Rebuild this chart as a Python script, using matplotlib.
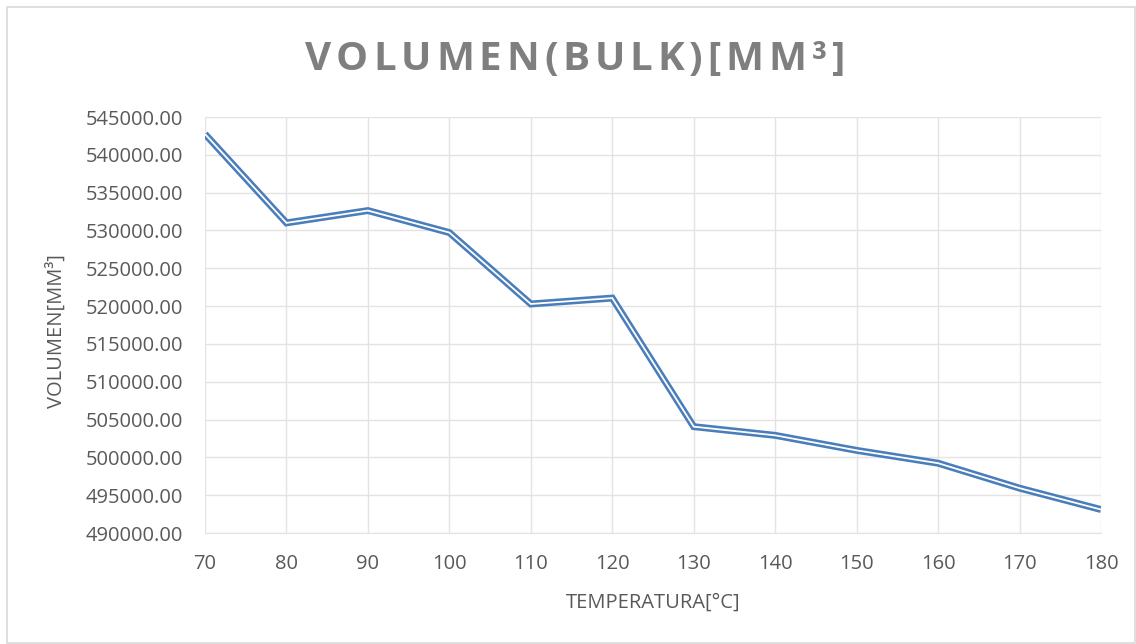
import matplotlib
matplotlib.use("Agg")
import matplotlib.pyplot as plt
from matplotlib.patches import Rectangle

temperatures = [70, 80, 90, 100, 110, 120, 130, 140, 150, 160, 170, 180]
volumes = [542750, 531000, 532630, 529720, 520280, 521060, 504060, 502910,
           500926, 499230, 495930, 493100]
y_ticks = [490000, 495000, 500000, 505000, 510000, 515000, 520000, 525000,
           530000, 535000, 540000, 545000]
title_text = "VOLUMEN(BULK)[MM³]"
x_label = "TEMPERATURA[°C]"
y_label = "VOLUMEN[MM³]"

W, H = 1136, 644
fig = plt.figure(figsize=(W / 100, H / 100), dpi=100)
fig.patch.set_facecolor("white")
font = ["Open Sans", "DejaVu Sans"]
txt_col = "#595959"
grid_col = "#e3e3e3"
line_col = "#4a7ebb"

# outer border
fig.add_artist(Rectangle((7 / W, 1 / H), (W - 8) / W, (H - 8) / H,
                         transform=fig.transFigure, fill=False,
                         edgecolor="#d9d9d9", linewidth=1.2))

ax = fig.add_axes([205 / W, 1 - 533 / H, (1101 - 205) / W, (533 - 117) / H])
ax.plot(temperatures, volumes, color=line_col, lw=5.0, solid_joinstyle="miter",
        solid_capstyle="butt", zorder=3)
ax.plot(temperatures, volumes, color="white", lw=1.3, solid_joinstyle="miter",
        solid_capstyle="butt", zorder=4)

ax.set_xlim(70, 180)
ax.set_ylim(490000, 545000)
ax.set_xticks(temperatures)
ax.set_xticklabels([str(t) for t in temperatures])
ax.set_yticks(y_ticks)
ax.set_yticklabels([f"{v:.2f}" for v in y_ticks])
ax.grid(True, color=grid_col, lw=1.0)
ax.set_axisbelow(True)
for s in ["top", "right", "left"]:
    ax.spines[s].set_visible(False)
ax.spines["bottom"].set_color(grid_col)
ax.tick_params(length=0, labelsize=14.5, labelcolor=txt_col)
ax.tick_params(axis="y", pad=16)
ax.tick_params(axis="x", pad=15)
for lab in ax.get_xticklabels() + ax.get_yticklabels():
    lab.set_fontfamily(font)

# axis titles
fig.text(653 / W, 1 - 608 / H, x_label, fontsize=14.5, color=txt_col,
         family=font, ha="center", va="baseline")
fig.text(57 / W, 1 - 331 / H, y_label, fontsize=14.5, color=txt_col,
         family=font, ha="center", va="center", rotation=90)

# letter-spaced title
renderer = fig.canvas.get_renderer()
tkw = dict(fontsize=29, fontweight="bold", color="#7f7f7f", family=font,
           va="baseline", ha="left")
chars = []
widths = []
for ch in title_text:
    t = fig.text(0, 0, ch, **tkw)
    bb = t.get_window_extent(renderer)
    widths.append(bb.width)
    chars.append(t)
left_px, right_px = 305, 845
gap = (right_px - left_px - sum(widths)) / (len(chars) - 1)
x = left_px
for t, w in zip(chars, widths):
    t.set_position((x / W, 1 - 70 / H))
    x += w + gap

fig.savefig("out.png", dpi=100, facecolor="white")
